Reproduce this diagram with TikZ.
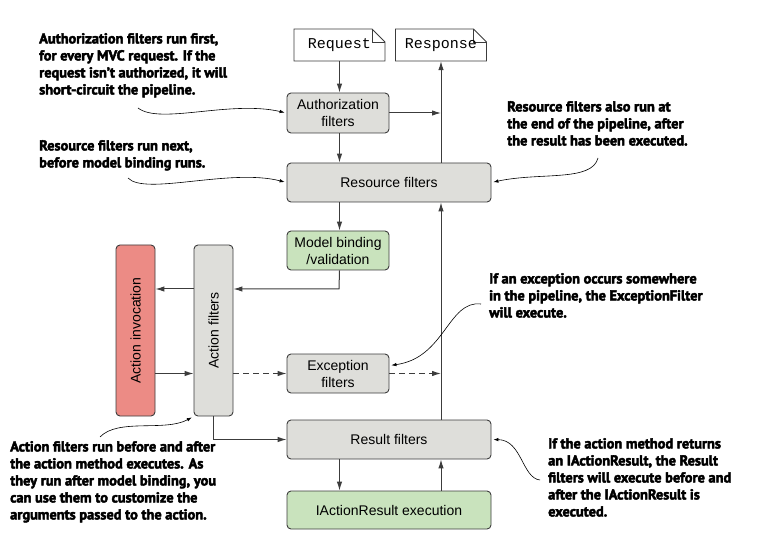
\documentclass[tikz,border=0pt]{standalone}
\usepackage{fontspec}
\setmainfont{Liberation Sans}
\setmonofont{Liberation Mono}
\newfontfamily\notefont{PT Sans}[BoldFeatures={FakeBold=3}]
\usetikzlibrary{arrows.meta}
\usetikzlibrary{calc}

\definecolor{boxgray}{RGB}{222,222,218}
\definecolor{boxgreen}{RGB}{201,227,189}
\definecolor{boxred}{RGB}{236,139,133}
\definecolor{linegray}{RGB}{60,60,60}
\definecolor{edgegray}{RGB}{60,60,60}

\tikzset{
  filter/.style={draw=edgegray, fill=boxgray, line width=0.9pt, rounded corners=4pt,
    inner sep=0pt, align=center, font=\fontsize{14}{17}\selectfont},
  doc/.style={inner sep=0pt, minimum width=91, minimum height=32,
    font=\ttfamily\fontsize{15}{17}\selectfont},
  docline/.style={draw=edgegray, fill=white, line width=0.8pt},
  flow/.style={->, draw=linegray, line width=1pt},
  note/.style={anchor=north west, inner sep=0pt, align=left,
    font=\notefont\bfseries\fontsize{14.4}{17}\selectfont},
  pointer/.style={-{Latex[length=5pt,width=3.5pt]}, line width=0.6pt, shorten >=2pt}
}

\begin{document}
\begin{tikzpicture}[baseline=0, >={Latex[length=9pt,width=5.5pt]}, x=1pt, y=-1pt]
      \useasboundingbox (0,0) rectangle (771,545);

      % request and response documents
      \foreach \d/\txt/\px in {req/Request/339.5, resp/Response/441} {
        \coordinate (\d c) at (\px,45);
        \draw [docline] ($(\d c)+(-45.5,16)$) -- ($(\d c)+(-45.5,-16)$)
          -- ($(\d c)+(32.5,-16)$) -- ($(\d c)+(45.5,-3)$) -- ($(\d c)+(45.5,16)$) -- cycle;
        \draw [docline, fill=none] ($(\d c)+(32.5,-16)$) -- ($(\d c)+(32.5,-3)$) -- ($(\d c)+(45.5,-3)$);
        \node at (\px,45) [doc, name=\d] {\txt};
      }

      % filter pipeline
      \node at (338,113) [filter, minimum width=102, minimum height=40, name=auth]
      {Authorization\\filters};

      \node at (389,182.5) [filter, minimum width=204, minimum height=39, name=res]
      {Resource filters};

      \node at (338,250.5) [filter, minimum width=102, minimum height=39, name=model, fill=boxgreen]
      {Model binding\\/validation};

      \node at (213.5,330.5) [filter, minimum width=39, minimum height=171, name=actf]
      {\rotatebox{90}{Action filters}};

      \node at (135.5,330.5) [filter, minimum width=39, minimum height=171, name=acti, fill=boxred]
      {\rotatebox{90}{Action invocation}};

      \node at (338,373.5) [filter, minimum width=102, minimum height=39, name=exc]
      {Exception\\filters};

      \node at (389,439.5) [filter, minimum width=204, minimum height=39, name=resf]
      {Result filters};

      \node at (389,510) [filter, minimum width=204, minimum height=38, name=iar, fill=boxgreen]
      {IActionResult execution};

      \coordinate (split) at (339,289);

      \draw [flow] (req.south) -- (req.south |- auth.north);
      \draw [flow] (auth.south -| req.south) -- (res.north -| req.south);
      \draw [flow] (res.south -| req.south) -- (model.north -| req.south);
      \draw [flow] (model.south -| req.south) -- (split) -- (split -| actf.east);
      \draw [flow] (split -| actf.west) -- (split -| acti.east);
      \draw [flow] (exc.west -| acti.east) -- (exc.west -| actf.west);
      \draw [flow, dash pattern=on 6pt off 4pt] (exc.west -| actf.east) -- (exc.west);
      \draw [flow, dash pattern=on 6pt off 4pt] (exc.east) -- (exc.east -| resp.south);
      \draw [flow] (actf.south) |- (resf.west);
      \draw [flow] (resf.south -| req.south) -- (iar.north -| req.south);
      \draw [flow] (iar.north -| resp.south) -- (resf.south -| resp.south);
      \draw [flow] (resf.north -| resp.south) -- (res.south -| resp.south);
      \draw [flow] (res.north -| resp.south) -- (resp.south);
      \draw [flow] (auth.east) -- (auth.east -| resp.south);

      % notes
      \node at (39,33) [note, name=authnote]
      {Authorization filters run first,\\for every MVC request. If the\\request isn’t authorized, it will\\short-circuit the pipeline.};

      \node at (39,140) [note, name=resnote]
      {Resource filters run next,\\before model binding runs.};

      \node at (507,101) [note, name=endnote]
      {Resource filters also run at\\the end of the pipeline, after\\the result has been executed.};

      \node at (489,273) [note, name=excnote]
      {If an exception occurs somewhere\\in the pipeline, the ExceptionFilter\\will execute.};

      \node at (548,438) [note, name=resfnote]
      {If the action method returns\\an IActionResult, the Result\\filters will execute before and\\after the IActionResult is\\executed.};

      \node at (10,441) [note, name=actnote]
      {Action filters run before and after\\the action method executes. As\\they run after model binding, you\\can use them to customize the\\arguments passed to the action.};

      \coordinate (authtail) at (138,108);
      \coordinate (restail) at (128,178);
      \coordinate (endtail) at (598,158);
      \coordinate (exctail) at (481,304);
      \coordinate (resftail) at (540,480);
      \coordinate (acttail) at (100,437);

      \draw [pointer] (authtail) .. controls (160,125) and (230,100) .. (auth.west);
      \draw [pointer] (restail) .. controls (145,196) and (230,168) .. (res.west);
      \draw [pointer] (endtail) .. controls (592,182) and (540,172) .. (res.east);
      \draw [pointer] (exctail) .. controls (448,300) and (445,358) .. ($(exc.north east)!0.3!(exc.south east)$);
      \draw [pointer] (resftail) .. controls (522,478) and (522,440) .. (resf.east);
      \draw [pointer] (acttail) .. controls (118,418) and (165,432) .. (actf.south west);
    \end{tikzpicture}
\end{document}
